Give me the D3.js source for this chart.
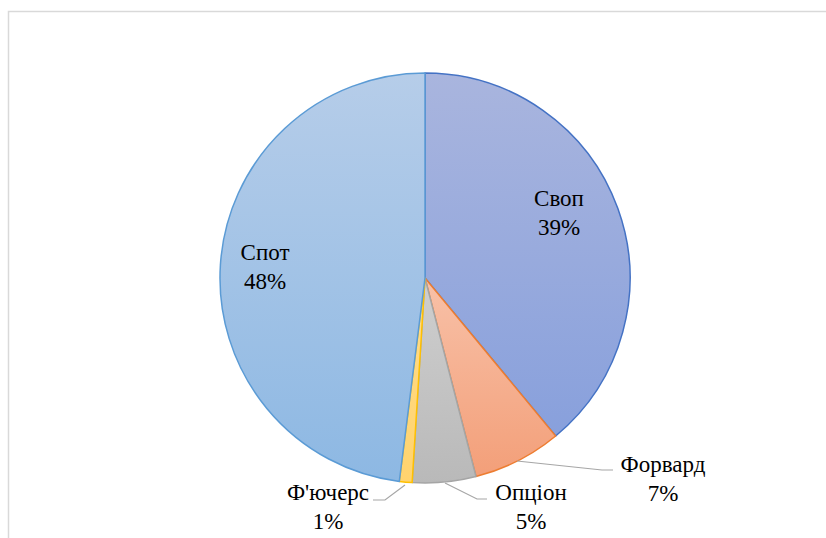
<!DOCTYPE html>
<html>
<head>
  <meta charset="UTF-8">
  <script src="https://d3js.org/d3.v7.min.js"></script>
</head>
<body style="margin:0">
<svg width="826" height="538" id="pie"></svg>
<script>
    const labels = ["Своп", "Форвард", "Опціон", "Ф'ючерс", "Спот"];
    const values = [39, 7, 5, 1, 48];
    const strokes = ["#4472c4", "#ed7d31", "#a5a5a5", "#ffc000", "#5b9bd5"];
    const topColors = ["#a9b5de", "#f8c1a8", "#cfcfcf", "#ffdc8c", "#b6cde9"];
    const bottomColors = ["#88a0dc", "#f39f79", "#b9b9b9", "#ffd36e", "#8db8e3"];

    const cx = 425, cy = 278, r = 205;

    const svg = d3.select("#pie");

    // chart frame
    svg.append("rect")
      .attr("x", 8.5).attr("y", 11.5)
      .attr("width", 900).attr("height", 600)
      .attr("fill", "none")
      .attr("stroke", "#d9d9d9")
      .attr("stroke-width", 1.5);

    const defs = svg.append("defs");
    labels.forEach((l, i) => {
      const g = defs.append("linearGradient")
        .attr("id", "grad" + i)
        .attr("x1", 0).attr("y1", 0).attr("x2", 0).attr("y2", 1);
      g.append("stop").attr("offset", "0%").attr("stop-color", topColors[i]);
      g.append("stop").attr("offset", "100%").attr("stop-color", bottomColors[i]);
    });

    const data = labels.map((l, i) => ({label: l, value: values[i], i}));
    const pie = d3.pie().value(d => d.value).sort(null);
    const arcs = pie(data);
    const arc = d3.arc().innerRadius(0).outerRadius(r);

    const g = svg.append("g").attr("transform", `translate(${cx},${cy})`);

    g.selectAll("path")
      .data(arcs)
      .enter()
      .append("path")
      .attr("d", arc)
      .attr("fill", d => `url(#grad${d.data.i})`)
      .attr("stroke", d => strokes[d.data.i])
      .attr("stroke-width", 1.5)
      .attr("stroke-linejoin", "round");

    // label positions (relative to centre) and leader lines
    const labelPos = [
      {x: 134, y: -72, lines: null},
      {x: 238, y: 194, lines: [[92, 183], [177, 192], [188, 192]]},
      {x: 106, y: 222, lines: [[20, 205], [52, 221], [62, 221]]},
      {x: -97, y: 222, lines: [[-20, 207], [-40, 222], [-52, 222]]},
      {x: -160, y: -18, lines: null}
    ];

    const fmt = d3.format(".0%");
    const total = d3.sum(values);

    arcs.forEach((a, k) => {
      const p = labelPos[k];
      if (p.lines) {
        g.append("polyline")
          .attr("points", p.lines.map(q => q.join(",")).join(" "))
          .attr("fill", "none")
          .attr("stroke", "#a6a6a6")
          .attr("stroke-width", 1.2);
      }
      [a.data.label, fmt(a.data.value / total)].forEach((s, j) => {
        g.append("text")
          .attr("x", p.x)
          .attr("y", p.y + j * 29)
          .attr("text-anchor", "middle")
          .style("font-family", `"Liberation Serif", "Times New Roman", serif`, "important")
          .style("font-size", "23px")
          .style("fill", "#000")
          .text(s);
      });
    });
</script>
</body>
</html>
